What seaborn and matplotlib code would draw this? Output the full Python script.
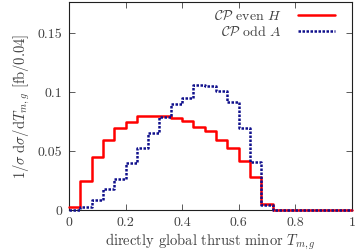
import numpy as np
import pandas as pd
import matplotlib
matplotlib.use("Agg")
import matplotlib.pyplot as plt
import seaborn as sns

# bin edges of the thrust minor histogram (25 bins of 0.04)
edges = [round(0.04 * i, 2) for i in range(26)]
centers = [e + 0.02 for e in edges[:-1]]

# normalised distributions
even_H = [0.003, 0.025, 0.045, 0.060, 0.0695, 0.075, 0.0798, 0.080, 0.0803, 0.078,
          0.076, 0.071, 0.067, 0.060, 0.053, 0.042, 0.028, 0.0057, 0, 0,
          0, 0, 0, 0, 0]
odd_A = [0.0006, 0.003, 0.009, 0.018, 0.027, 0.040, 0.053, 0.066, 0.079, 0.090,
         0.0955, 0.106, 0.105, 0.1015, 0.092, 0.070, 0.041, 0.0046, 0, 0,
         0, 0, 0, 0, 0]

df_H = pd.DataFrame({"T": centers, "w": even_H})
df_A = pd.DataFrame({"T": centers, "w": odd_A})

sns.set_style("ticks")
plt.rcParams["font.family"] = ["cmr10", "DejaVu Serif"]
plt.rcParams["mathtext.fontset"] = "cm"
plt.rcParams["axes.formatter.use_mathtext"] = True
plt.rcParams["font.size"] = 10

fig = plt.figure(figsize=(3.57, 2.52), dpi=100)
ax = fig.add_axes([0.193, 0.165, 0.793, 0.829])

sns.histplot(data=df_H, x="T", weights="w", bins=edges, element="step", fill=False,
             color="#ff0000", linewidth=1.8, label=r"$\mathcal{CP}$ even $H$",
             zorder=3, clip_on=False, ax=ax)
sns.histplot(data=df_A, x="T", weights="w", bins=edges, element="step", fill=False,
             color="#10108c", linewidth=1.8, linestyle=(0, (1, 0.6)),
             label=r"$\mathcal{CP}$ odd $A$", zorder=3, clip_on=False, ax=ax)

ax.set_xlim(0, 1)
ax.set_ylim(0, 0.177)
ax.set_xticks([0, 0.2, 0.4, 0.6, 0.8, 1])
ax.set_xticklabels(["0", "0.2", "0.4", "0.6", "0.8", "1"])
ax.set_yticks([0, 0.05, 0.1, 0.15])
ax.set_yticklabels(["0", "0.05", "0.1", "0.15"])
ax.tick_params(direction="in", top=True, right=True, length=4, width=0.6,
               labelsize=10, colors="#404040", labelcolor="#404040", pad=5)
for s in ax.spines.values():
    s.set_linewidth(0.8)
    s.set_color("#202020")
    s.set_zorder(1)

ax.set_xlabel(r"directly global thrust minor $T_{m,g}$", color="#404040", fontsize=10.5,
              labelpad=2)
ax.set_ylabel(r"$1/\sigma\;\mathrm{d}\sigma/\mathrm{d}T_{m,g}$ [fb/0.04]", color="#404040",
              fontsize=10.5)

leg = ax.legend(loc="upper right", bbox_to_anchor=(0.968, 1.0), frameon=False,
                markerfirst=False, fontsize=10, handlelength=2.6, handletextpad=1.2,
                borderaxespad=0.2, labelspacing=0.2)
for t in leg.get_texts():
    t.set_color("#404040")

plt.savefig("out.png", dpi=100)
